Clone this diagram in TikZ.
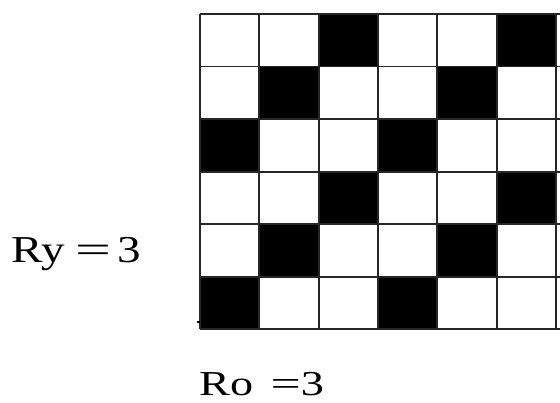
\documentclass[tikz,border=0pt]{standalone}
\usepackage{fontspec}
\usepackage{graphicx}
\setmainfont{Liberation Serif}
\newcommand{\wideeq}[1]{\scalebox{#1}[1]{=}}
\begin{document}
\begin{tikzpicture}[x=1pt,y=-1pt,
  gridline/.style={line width=1.8pt,draw=black!85},
  blackcell/.style={fill=black},
  lbl/.style={anchor=base west,inner sep=0pt,outer sep=0pt}]
\useasboundingbox[fill=white] (0,0) rectangle (560,403);
\def\xo{200}\def\yo{14}\def\cw{59.33}\def\rh{52.55}
% black cells: row r from bottom (0..5), column c (0..5), black when (c-r) mod 3 = 0
\foreach \r in {0,...,5}{
  \foreach \c in {0,...,5}{
    \pgfmathtruncatemacro{\m}{mod(\c-\r+6,3)}
    \ifnum\m=0
      \fill[blackcell] ({\xo+\c*\cw},{\yo+(5-\r)*\rh}) rectangle ({\xo+(\c+1)*\cw},{\yo+(6-\r)*\rh});
    \fi
  }
}
% grid lines
\foreach \k in {0,...,6}{
  \draw[gridline] ({\xo+\k*\cw},\yo) -- ({\xo+\k*\cw},{\yo+6*\rh});
}
\foreach \k in {0,...,6}{
  \draw[gridline] (\xo,{\yo+\k*\rh}) -- (561,{\yo+\k*\rh});
}
% small tick at lower left
\draw[line width=2.5pt] (196.5,322) -- (200,322);
% labels
\node[lbl] (ry) at (11.5,263) {\scalebox{1.24}[1]{\fontsize{38}{40}\selectfont Ry\hspace{-0.5pt} \wideeq{1.35}\hspace{-4.5pt} 3}};
\node[lbl] (ro) at (199.2,396) {\scalebox{1.32}[1]{\fontsize{35}{37}\selectfont Ro\hspace{4.5pt} \wideeq{1.16}3}};
\end{tikzpicture}
\end{document}
